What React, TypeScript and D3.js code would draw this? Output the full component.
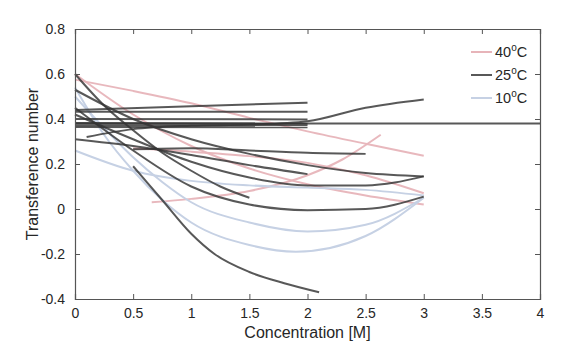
import React, { useEffect, useRef } from 'react';
import * as d3 from 'd3';

// concentration [M] vs transference number, one array per measured curve
const hot1 = [[0, 0.575], [0.5, 0.525], [1, 0.47], [1.5, 0.405], [2, 0.345], [2.5, 0.29], [3, 0.237]];
const hot2 = [[0, 0.6], [0.5, 0.42], [1, 0.28], [1.5, 0.18], [2, 0.11], [2.5, 0.06], [3, 0.02]];
const hot3 = [[0.66, 0.03], [1, 0.045], [1.5, 0.08], [2, 0.15], [2.3, 0.22], [2.63, 0.33]];
const hot4 = [[0.5, 0.27], [1, 0.255], [1.5, 0.235], [2, 0.205], [2.5, 0.15], [3, 0.07]];

const mid1 = [[0, 0.38], [4, 0.38]];
const mid2 = [[0, 0.44], [1, 0.457], [2, 0.472]];
const mid3 = [[0, 0.432], [2, 0.432]];
const mid4 = [[0, 0.4], [2, 0.398]];
const mid5 = [[0, 0.382], [2, 0.38]];
const mid6 = [[0, 0.372], [2, 0.372]];
const mid7 = [[0, 0.365], [2, 0.363]];
const mid8 = [[0.1, 0.32], [0.5, 0.355], [1, 0.37], [1.5, 0.375], [2, 0.39], [2.5, 0.45], [3, 0.487]];
const mid9 = [[0, 0.6], [0.25, 0.46], [0.5, 0.35], [0.75, 0.25], [1, 0.17], [1.25, 0.1], [1.5, 0.05]];
const mid10 = [[0, 0.53], [0.5, 0.4], [1, 0.31], [1.5, 0.245], [2, 0.195], [2.5, 0.16], [3, 0.145]];
const mid11 = [[0, 0.31], [0.5, 0.28], [1, 0.24], [1.5, 0.195], [2, 0.155]];
const mid12 = [[0, 0.42], [0.5, 0.31], [1, 0.21], [1.5, 0.14], [2, 0.105], [2.5, 0.105], [3, 0.145]];
const mid13 = [[0.5, 0.265], [1, 0.27], [1.5, 0.26], [2, 0.25], [2.5, 0.245]];
const mid14 = [[0, 0.45], [0.5, 0.26], [1, 0.1], [1.5, 0.02], [2, -0.005], [2.5, 0.0], [3, 0.055]];
const mid15 = [[0.5, 0.19], [0.75, 0.04], [1, -0.11], [1.2, -0.2], [1.5, -0.28], [1.8, -0.33], [2.1, -0.37]];

const cold1 = [[0, 0.26], [0.5, 0.17], [1, 0.125], [1.5, 0.105], [2, 0.095], [2.5, 0.085], [3, 0.06]];
const cold2 = [[0, 0.5], [0.25, 0.36], [0.5, 0.23], [0.75, 0.12], [1, 0.03], [1.5, -0.06], [2, -0.1], [2.5, -0.07], [3, 0.05]];
const cold3 = [[0, 0.54], [0.25, 0.33], [0.5, 0.17], [0.75, 0.04], [1, -0.06], [1.5, -0.16], [1.9, -0.19], [2.5, -0.12], [3, 0.05]];

const hotCurves = [hot1, hot2, hot3, hot4];
const midCurves = [mid1, mid2, mid3, mid4, mid5, mid6, mid7, mid8, mid9, mid10, mid11, mid12, mid13, mid14, mid15];
const coldCurves = [cold1, cold2, cold3];

const legendLabels = ['40', '25', '10'];
const xTicks = [0, 0.5, 1, 1.5, 2, 2.5, 3, 3.5, 4];
const yTicks = [-0.4, -0.2, 0, 0.2, 0.4, 0.6, 0.8];

const W = 581;
const H = 357;
const margin = { top: 29, right: 41, bottom: 58, left: 75 };
const FONT = '"Liberation Sans", Arial, Helvetica, sans-serif';

const colors = ['#e7b4b9', '#333333', '#c6d1e4'];

// plain hyphen for negatives, like the original
const fmt = (d: number) => String(d);

export default function App() {
  const ref = useRef<SVGSVGElement>(null);

  useEffect(() => {
    const svg = d3.select(ref.current);
    svg.selectAll('*').remove();

    const x = d3.scaleLinear().domain([0, 4]).range([margin.left, W - margin.right]);
    const y = d3.scaleLinear().domain([-0.4, 0.8]).range([H - margin.bottom, margin.top]);

    const line = d3.line<number[]>()
      .x((d) => x(d[0]))
      .y((d) => y(d[1]))
      .curve(d3.curveMonotoneX);

    const plot = svg.append('g');
    const groups = [
      { data: hotCurves, color: colors[0], op: 0.95 },
      { data: coldCurves, color: colors[2], op: 1 },
      { data: midCurves, color: colors[1], op: 0.82 },
    ];
    groups.forEach((g) => {
      plot.selectAll(null)
        .data(g.data)
        .enter()
        .append('path')
        .attr('d', (d) => line(d))
        .attr('fill', 'none')
        .attr('stroke', g.color)
        .attr('stroke-opacity', g.op)
        .attr('stroke-width', 2);
    });

    // axes box, ticks inward on all sides
    const axisColor = '#555';
    const bottom = svg.append('g')
      .attr('transform', `translate(0,${H - margin.bottom})`)
      .call(d3.axisBottom(x).tickValues(xTicks).tickSize(-5).tickPadding(9).tickFormat(fmt));
    const top = svg.append('g')
      .attr('transform', `translate(0,${margin.top})`)
      .call(d3.axisTop(x).tickValues(xTicks).tickSize(-5).tickFormat(() => ''));
    const left = svg.append('g')
      .attr('transform', `translate(${margin.left},0)`)
      .call(d3.axisLeft(y).tickValues(yTicks).tickSize(-5).tickPadding(10).tickFormat(fmt));
    const right = svg.append('g')
      .attr('transform', `translate(${W - margin.right},0)`)
      .call(d3.axisRight(y).tickValues(yTicks).tickSize(-5).tickFormat(() => ''));

    [bottom, top, left, right].forEach((a) => {
      a.select('.domain').attr('stroke', axisColor).attr('stroke-width', 1.2);
      a.selectAll('.tick line').attr('stroke', axisColor).attr('stroke-width', 1);
      a.selectAll('text').attr('font-family', FONT).attr('font-size', 14).attr('fill', '#262626');
    });

    svg.append('text')
      .attr('x', (margin.left + W - margin.right) / 2)
      .attr('y', 338)
      .attr('text-anchor', 'middle')
      .attr('font-family', FONT)
      .attr('font-size', 16)
      .attr('fill', '#262626')
      .text('Concentration [M]');

    svg.append('text')
      .attr('transform', `translate(38,${(margin.top + H - margin.bottom) / 2}) rotate(-90)`)
      .attr('text-anchor', 'middle')
      .attr('font-family', FONT)
      .attr('font-size', 16)
      .attr('fill', '#262626')
      .text('Transference number');

    // legend
    const leg = svg.append('g').attr('transform', 'translate(471,52)');
    legendLabels.forEach((lab, i) => {
      const g = leg.append('g').attr('transform', `translate(0,${i * 23})`);
      g.append('line')
        .attr('x1', 0).attr('x2', 21)
        .attr('stroke', colors[i]).attr('stroke-opacity', i === 1 ? 0.82 : 1).attr('stroke-width', 2);
      const t = g.append('text')
        .attr('x', 24).attr('y', 5)
        .attr('font-family', FONT)
        .attr('font-size', 14.5)
        .attr('fill', '#262626');
      t.append('tspan').text(lab);
      t.append('tspan').attr('font-size', 10).attr('dy', -6).text('o');
      t.append('tspan').attr('dy', 6).text('C');
    });
  }, []);

  return (
    <svg ref={ref} width={W} height={H}
      style={{ position: 'absolute', left: 0, top: 0, background: '#fff' }} />
  );
}
